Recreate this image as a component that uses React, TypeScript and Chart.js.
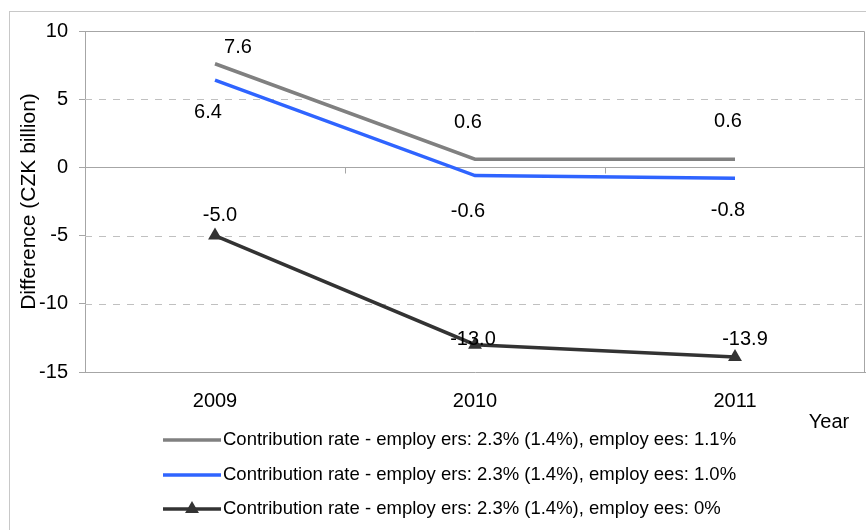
import React, { useEffect, useRef } from 'react';
import { Chart, registerables } from 'chart.js';

Chart.register(...registerables);

// ---- data ----
const years = ['2009', '2010', '2011'];
const seriesLabels = [
  'Contribution rate - employ ers: 2.3% (1.4%), employ ees: 1.1%',
  'Contribution rate - employ ers: 2.3% (1.4%), employ ees: 1.0%',
  'Contribution rate - employ ers: 2.3% (1.4%), employ ees: 0%',
];
const employees11 = [7.6, 0.6, 0.6];
const employees10 = [6.4, -0.6, -0.8];
const employees0 = [-5.0, -13.0, -13.9];
const yMin = -15;
const yMax = 10;
const yStep = 5;
const yAxisTitle = 'Difference (CZK billion)';
const xAxisTitle = 'Year';

// ---- style ----
const FONT = '"Liberation Sans", Arial, sans-serif';
const colors = ['#808080', '#2f64ff', '#333333'];
// data-label offsets (px) relative to each point, per series
const labelOffsets = [
  [[23, -16], [-7, -37], [-7, -38]],
  [[-7, 32], [-7, 36], [-7, 32]],
  [[5, -20], [-2, -5], [10, -18]],
];
const legendRows = [440, 475, 509];

const decorPlugin = {
  id: 'decor',
  beforeDraw(chart: any) {
    const ctx = chart.ctx;
    ctx.save();
    ctx.fillStyle = '#ffffff';
    ctx.fillRect(0, 0, chart.width, chart.height);
    ctx.strokeStyle = '#c8c8c8';
    ctx.lineWidth = 1;
    ctx.strokeRect(9.5, 11.5, chart.width + 20, chart.height + 20);
    ctx.restore();
  },
  beforeDatasetsDraw(chart: any) {
    const { ctx, chartArea: ca, scales } = chart;
    const x = scales.x;
    const y = scales.y;
    ctx.save();
    ctx.lineWidth = 1;
    y.ticks.forEach((t: any) => {
      if (t.value === y.min || t.value === y.max) return;
      const py = Math.round(y.getPixelForValue(t.value)) + 0.5;
      ctx.beginPath();
      if (t.value === 0) {
        ctx.setLineDash([]);
        ctx.strokeStyle = '#a6a6a6';
      } else {
        ctx.setLineDash([7, 7]);
        ctx.strokeStyle = '#c0c0c0';
      }
      ctx.moveTo(ca.left, py);
      ctx.lineTo(ca.right, py);
      ctx.stroke();
    });
    ctx.setLineDash([]);
    // plot area top & right border
    ctx.strokeStyle = '#a6a6a6';
    ctx.beginPath();
    ctx.moveTo(ca.left, Math.round(ca.top) + 0.5);
    ctx.lineTo(Math.round(ca.right) - 0.5, Math.round(ca.top) + 0.5);
    ctx.lineTo(Math.round(ca.right) - 0.5, ca.bottom);
    ctx.stroke();
    // category tick marks on the zero line
    const y0 = Math.round(y.getPixelForValue(0)) + 0.5;
    const n = x.ticks.length;
    for (let i = 0; i < n; i++) {
      const bx = i < n - 1 ? (x.getPixelForTick(i) + x.getPixelForTick(i + 1)) / 2 : ca.right - 1;
      const px = Math.round(bx) + 0.5;
      ctx.beginPath();
      ctx.moveTo(px, y0);
      ctx.lineTo(px, y0 + 6);
      ctx.stroke();
    }
    ctx.restore();
  },
  afterDatasetsDraw(chart: any) {
    const ctx = chart.ctx;
    ctx.save();
    ctx.font = `20px ${FONT}`;
    ctx.fillStyle = '#000';
    ctx.textAlign = 'center';
    ctx.textBaseline = 'middle';
    chart.data.datasets.forEach((ds: any, i: number) => {
      const meta = chart.getDatasetMeta(i);
      meta.data.forEach((pt: any, j: number) => {
        const v = ds.data[j] as number;
        const off = labelOffsets[i][j];
        ctx.fillText(v.toFixed(1), pt.x + off[0], pt.y + off[1]);
      });
    });
    ctx.restore();
  },
  afterDraw(chart: any) {
    const ctx = chart.ctx;
    ctx.save();
    // legend
    chart.data.datasets.forEach((ds: any, i: number) => {
      const yy = legendRows[i];
      ctx.strokeStyle = ds.borderColor;
      ctx.lineWidth = ds.borderWidth;
      ctx.beginPath();
      ctx.moveTo(163, yy);
      ctx.lineTo(221, yy);
      ctx.stroke();
      if (ds.pointStyle === 'triangle') {
        const r = ds.pointRadius;
        const cx = 192;
        ctx.fillStyle = ds.pointBackgroundColor;
        ctx.beginPath();
        ctx.moveTo(cx, yy - r);
        ctx.lineTo(cx + r * Math.sin(Math.PI / 3), yy + r / 2);
        ctx.lineTo(cx - r * Math.sin(Math.PI / 3), yy + r / 2);
        ctx.closePath();
        ctx.fill();
      }
      ctx.fillStyle = '#000';
      ctx.font = `18.5px ${FONT}`;
      ctx.textAlign = 'left';
      ctx.textBaseline = 'middle';
      ctx.fillText(ds.label, 223, yy);
    });
    // x-axis title
    ctx.font = `20px ${FONT}`;
    ctx.textAlign = 'center';
    ctx.textBaseline = 'middle';
    ctx.fillStyle = '#000';
    ctx.fillText(xAxisTitle, 829, 422);
    ctx.restore();
  },
};

export default function App() {
  const ref = useRef<HTMLCanvasElement | null>(null);
  useEffect(() => {
    document.body.style.margin = '0';
    const canvas = ref.current!;
    const chart = new Chart(canvas, {
      type: 'line',
      data: {
        labels: years,
        datasets: [
          {
            label: seriesLabels[0],
            data: employees11,
            borderColor: colors[0],
            backgroundColor: colors[0],
            borderWidth: 3.5,
            pointRadius: 0,
            pointHoverRadius: 0,
            pointStyle: 'circle',
            tension: 0,
          },
          {
            label: seriesLabels[1],
            data: employees10,
            borderColor: colors[1],
            backgroundColor: colors[1],
            borderWidth: 3.5,
            pointRadius: 0,
            pointHoverRadius: 0,
            pointStyle: 'circle',
            tension: 0,
          },
          {
            label: seriesLabels[2],
            data: employees0,
            borderColor: colors[2],
            backgroundColor: colors[2],
            pointBackgroundColor: colors[2],
            pointBorderColor: colors[2],
            borderWidth: 3.5,
            pointRadius: 8,
            pointHoverRadius: 8,
            pointBorderWidth: 0,
            pointStyle: 'triangle',
            tension: 0,
          },
        ],
      },
      options: {
        responsive: false,
        animation: false,
        devicePixelRatio: 1,
        events: [],
        layout: { autoPadding: false, padding: { top: 31, right: 1, left: 0, bottom: 0 } },
        plugins: {
          legend: { display: false },
          tooltip: { enabled: false },
          title: { display: false },
        },
        scales: {
          x: {
            type: 'category',
            offset: true,
            grid: { display: false, drawTicks: false },
            border: { display: true, color: '#a6a6a6', width: 1 },
            ticks: {
              color: '#000',
              padding: 17,
              font: { family: FONT, size: 20 },
              maxRotation: 0,
            },
            afterFit: (s: any) => {
              s.height = 158;
              s.paddingLeft = 0;
              s.paddingRight = 0;
            },
          },
          y: {
            type: 'linear',
            min: yMin,
            max: yMax,
            ticks: {
              stepSize: yStep,
              color: '#000',
              padding: 11,
              font: { family: FONT, size: 20 },
            },
            grid: {
              drawOnChartArea: false,
              drawTicks: true,
              tickLength: 6,
              tickColor: '#a6a6a6',
              color: '#a6a6a6',
            },
            border: { display: true, color: '#a6a6a6', width: 1 },
            title: {
              display: true,
              text: yAxisTitle,
              color: '#000',
              font: { family: FONT, size: 21 },
              padding: { top: 17, bottom: 0 },
            },
            afterFit: (s: any) => {
              s.width = 85;
              s.paddingTop = 0;
              s.paddingBottom = 0;
            },
          },
        },
      },
      plugins: [decorPlugin],
    } as any);
    return () => chart.destroy();
  }, []);
  return (
    <div style={{ position: 'absolute', left: 0, top: 0, width: 866, height: 530 }}>
      <canvas ref={ref} width={866} height={530} style={{ display: 'block' }} />
    </div>
  );
}
